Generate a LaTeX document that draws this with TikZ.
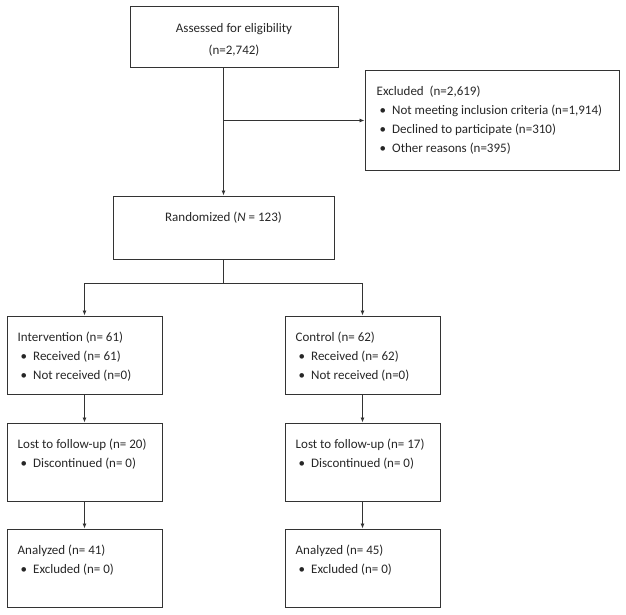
\documentclass[tikz,border=0pt]{standalone}
\usepackage{fontspec}
\setmainfont{Carlito}
\usetikzlibrary{arrows.meta, positioning, calc}

% bullet line inside a box
\newcommand{\bul}{\\\hspace*{3pt}\textbullet\hspace{6pt}}

\begin{document}
\begin{tikzpicture}[x=1pt, y=-1pt, >={Latex[length=5pt, width=4pt]},
    box/.style={draw=black!80, line width=1pt, inner sep=0pt,
        minimum width=155pt, minimum height=78pt},
    txt/.style={inner sep=0pt, align=left, text=black!85,
        font=\fontsize{13}{19}\selectfont},
    link/.style={draw=black!80, line width=0.8pt}]
    \useasboundingbox (0, 0) rectangle (626, 615);
    % boxes
    \node[box, minimum width=208pt, minimum height=61pt] (assess) at (234, 37.5) {};
    \node[box, minimum width=254pt, minimum height=99pt] (excl) at (492, 120.5) {};
    \node[box, minimum width=221pt, minimum height=63pt] (rand) at (223.5, 227.5) {};
    \node[box] (int)   at (84.5, 355) {};
    \node[box] (ctrl)  at (362.5, 355) {};
    \node[box] (lostI) at (84.5, 462) {};
    \node[box] (lostC) at (362.5, 462) {};
    \node[box] (anaI)  at (84.5, 568) {};
    \node[box] (anaC)  at (362.5, 568) {};
    % texts
    \node[txt, align=center, anchor=north] (tAssess) at ($(assess.north)+(0, 17)$)
        {Assessed for eligibility\\[3pt](n=2,742)};
    \node[txt, anchor=north west] (tExcl) at ($(excl.north west)+(12, 15)$)
        {Excluded\ \ (n=2,619)\bul Not meeting inclusion criteria (n=1,914)%
         \bul Declined to participate (n=310)\bul Other reasons (n=395)};
    \node[txt, anchor=north] (tRand) at ($(rand.north)+(0, 16)$)
        {Randomized (\textit{N} = 123)};
    \node[txt, anchor=north west] (tInt) at ($(int.north west)+(11, 16)$)
        {Intervention (n= 61)\bul Received (n= 61)\bul Not received (n=0)};
    \node[txt, anchor=north west] (tCtrl) at ($(ctrl.north west)+(11, 16)$)
        {Control (n= 62)\bul Received (n= 62)\bul Not received (n=0)};
    \node[txt, anchor=north west] (tLostI) at ($(lostI.north west)+(11, 16)$)
        {Lost to follow-up (n= 20)\bul Discontinued (n= 0)};
    \node[txt, anchor=north west] (tLostC) at ($(lostC.north west)+(11, 16)$)
        {Lost to follow-up (n= 17)\bul Discontinued (n= 0)};
    \node[txt, anchor=north west] (tAnaI) at ($(anaI.north west)+(11, 16)$)
        {Analyzed (n= 41)\bul Excluded (n= 0)};
    \node[txt, anchor=north west] (tAnaC) at ($(anaC.north west)+(11, 16)$)
        {Analyzed (n= 45)\bul Excluded (n= 0)};
    % links
    \draw[link, ->] (assess.south -| rand.north) -- (rand.north);
    \draw[link, ->] (excl.west -| rand.north) -- (excl.west);
    \coordinate (split) at ($(rand.south)+(0, 24)$);
    \draw[link] (rand.south) -- (split);
    \draw[link, ->] (split) -| (int.north);
    \draw[link, ->] (split) -| (ctrl.north);
    \draw[link, ->] (int) -- (lostI);
    \draw[link, ->] (lostI) -- (anaI);
    \draw[link, ->] (ctrl) -- (lostC);
    \draw[link, ->] (lostC) -- (anaC);
\end{tikzpicture}
\end{document}
